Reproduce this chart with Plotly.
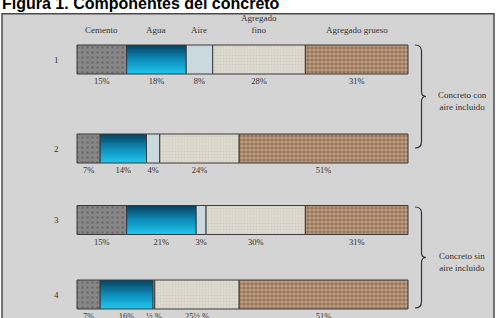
import plotly.graph_objects as go

# ---------------- data ----------------
title_text = "Figura 1. Componentes del concreto"
components = ["Cemento", "Agua", "Aire", "Agregado fino", "Agregado grueso"]
header_labels = ["Cemento", "Agua", "Aire", "Agregado<br>fino", "Agregado grueso"]
row_names = ["1", "2", "3", "4"]

cemento = [15, 7, 15, 7]
agua = [18, 14, 21, 16]
aire = [8, 4, 3, 0.5]
fino = [28, 24, 30, 25.5]
grueso = [31, 51, 31, 51]

labels_row = [
    ["15%", "18%", "8%", "28%", "31%"],
    ["7%", "14%", "4%", "24%", "51%"],
    ["15%", "21%", "3%", "30%", "31%"],
    ["7%", "16%", "½ %", "25½ %", "51%"],
]
group_labels = ["Concreto con<br>aire incluido", "Concreto sin<br>aire incluido"]

# ---------------- layout constants (pixels) ----------------
W, H = 501, 318
X0_PX = 77.0
PX_PER = 3.31
ROW_Y = [59.5, 148.5, 220, 294.5]
BAR_W = 29
SERIF = "Liberation Serif, Times New Roman, serif"
TXT = "#333333"


def px2paper(px):
    return px / W


series = [cemento, agua, aire, fino, grueso]
bases = []
for r in range(4):
    acc = 0
    row_b = []
    for s in series:
        row_b.append(acc)
        acc += s[r]
    bases.append(row_b)

fig = go.Figure()

outline = dict(color="#3a3a3a", width=1)

# Cemento
fig.add_trace(go.Bar(
    orientation="h", y=ROW_Y, x=cemento, base=[b[0] for b in bases], width=BAR_W,
    marker=dict(color="#868686", line=outline,
                pattern=dict(shape=".", bgcolor="#868686", fgcolor="#505050",
                             size=5, solidity=0.18)),
    name="Cemento", showlegend=False, hoverinfo="skip"))

# Agua with vertical gradient: each slice runs from its top to the bar bottom,
# later (lighter) slices overwrite the lower part -> no seams
N = 16
stops = [(0.0, (8, 70, 100)), (0.5, (14, 140, 185)), (1.0, (30, 195, 235))]


def interp(t):
    for (t0, c0), (t1, c1) in zip(stops[:-1], stops[1:]):
        if t0 <= t <= t1:
            f = (t - t0) / (t1 - t0)
            return "rgb(%d,%d,%d)" % tuple(round(a + (b - a) * f) for a, b in zip(c0, c1))
    return "rgb(30,195,235)"


sw = BAR_W / N
for i in range(N):
    fig.add_trace(go.Bar(
        orientation="h", y=ROW_Y, x=agua, base=[b[1] for b in bases],
        width=BAR_W - i * sw, offset=-BAR_W / 2 + i * sw,
        marker=dict(color=interp(i / (N - 1)), line=dict(width=0)),
        showlegend=False, hoverinfo="skip"))
fig.add_trace(go.Bar(
    orientation="h", y=ROW_Y, x=agua, base=[b[1] for b in bases], width=BAR_W,
    marker=dict(color="rgba(0,0,0,0)", line=outline),
    showlegend=False, hoverinfo="skip"))

# Aire
fig.add_trace(go.Bar(
    orientation="h", y=ROW_Y, x=aire, base=[b[2] for b in bases], width=BAR_W,
    marker=dict(color="#c9d9de", line=outline),
    showlegend=False, hoverinfo="skip"))

# Agregado fino
fig.add_trace(go.Bar(
    orientation="h", y=ROW_Y, x=fino, base=[b[3] for b in bases], width=BAR_W,
    marker=dict(color="#dedbd0", line=outline,
                pattern=dict(shape=".", bgcolor="#dedbd0", fgcolor="#c2beb0",
                             size=3, solidity=0.3)),
    showlegend=False, hoverinfo="skip"))

# Agregado grueso
fig.add_trace(go.Bar(
    orientation="h", y=ROW_Y, x=grueso, base=[b[4] for b in bases], width=BAR_W,
    marker=dict(color="#946e52", line=outline,
                pattern=dict(shape=".", bgcolor="#946e52", fgcolor="#e2cbb0",
                             size=4, solidity=0.65)),
    showlegend=False, hoverinfo="skip"))

# Percentage labels under each segment
lx, ly, lt = [], [], []
for r in range(4):
    for c in range(5):
        lx.append(bases[r][c] + series[c][r] / 2)
        ly.append(ROW_Y[r] + BAR_W / 2 + 8)
        lt.append(labels_row[r][c])
fig.add_trace(go.Scatter(
    x=lx, y=ly, text=lt, mode="text", textposition="middle center",
    textfont=dict(family=SERIF, size=8.5, color=TXT),
    showlegend=False, hoverinfo="skip"))

annotations = []
# Column headers (centered on row 1 segments)
for c in range(5):
    annotations.append(dict(
        x=bases[0][c] + series[c][0] / 2, y=37, xref="x", yref="y",
        text=header_labels[c], showarrow=False, xanchor="center", yanchor="bottom",
        font=dict(family=SERIF, size=9, color=TXT)))

# Row numbers
for r in range(4):
    annotations.append(dict(
        x=px2paper(56), y=ROW_Y[r], xref="paper", yref="y", text=row_names[r],
        showarrow=False, xanchor="center", yanchor="middle",
        font=dict(family=SERIF, size=9, color=TXT)))

# Title
annotations.append(dict(
    x=0, y=3.5, xref="paper", yref="y", text="<b>" + title_text + "</b>",
    showarrow=False, xanchor="left", yanchor="middle",
    font=dict(family="Liberation Sans, Arial, sans-serif", size=16, color="#000000")))

# Group labels
brace_spans = [(45, 148), (207, 308)]
for (t, b), g in zip(brace_spans, group_labels):
    m = (t + b) / 2
    annotations.append(dict(
        x=px2paper(462), y=m + 4, xref="paper", yref="y", text=g,
        showarrow=False, xanchor="center", yanchor="middle",
        font=dict(family=SERIF, size=9, color=TXT)))

shapes = [dict(type="rect", xref="paper", yref="y",
               x0=px2paper(2), x1=px2paper(494), y0=13.8, y1=340,
               fillcolor="#d4d4d4", line=dict(color="#4a4a4a", width=1.5),
               layer="below")]


def brace_path(t, b):
    m = (t + b) / 2
    xa, xb, xc = px2paper(415), px2paper(421.5), px2paper(426)
    return (f"M {xa},{t} Q {xb},{t} {xb},{t + 6} L {xb},{m - 5} "
            f"Q {xb},{m} {xc},{m} Q {xb},{m} {xb},{m + 5} L {xb},{b - 6} "
            f"Q {xb},{b} {xa},{b}")


for t, b in brace_spans:
    shapes.append(dict(type="path", xref="paper", yref="y", path=brace_path(t, b),
                       line=dict(color="#333333", width=1.2)))

fig.update_layout(
    width=W, height=H, margin=dict(l=0, r=0, t=0, b=0, pad=0),
    paper_bgcolor="white", plot_bgcolor="white",
    barmode="overlay", hovermode=False, showlegend=False,
    xaxis=dict(range=[-X0_PX / PX_PER, (W - X0_PX) / PX_PER], visible=False,
               fixedrange=True),
    yaxis=dict(range=[H, 0], visible=False, fixedrange=True),
    annotations=annotations, shapes=shapes,
)

fig.write_html("out.html")
